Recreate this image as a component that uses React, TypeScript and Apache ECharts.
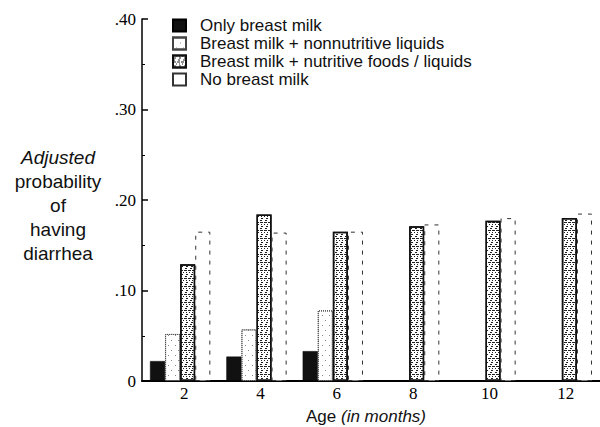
import React, { useEffect, useRef } from "react";
import * as echarts from "echarts";

const ages = ["2", "4", "6", "8", "10", "12"];
const onlyBreast = [0.022, 0.027, 0.033, null, null, null];
const nonNutritive = [0.052, 0.057, 0.078, null, null, null];
const nutritive = [0.129, 0.184, 0.165, 0.171, 0.177, 0.18];
const noBreast = [0.165, 0.164, 0.165, 0.173, 0.18, 0.185];
const seriesNames = [
  "Only breast milk",
  "Breast milk + nonnutritive liquids",
  "Breast milk + nutritive foods / liquids",
  "No breast milk",
];
const yAxisTitle = ["Adjusted", "probability", "of", "having", "diarrhea"];

const SANS = "'Liberation Sans', Arial, Helvetica, sans-serif";
const SERIF = "'Liberation Serif', 'Times New Roman', serif";

export default function App() {
  const ref = useRef<HTMLDivElement>(null);
  useEffect(() => {
    if (!ref.current) return;
    const chart = echarts.init(ref.current, undefined, { renderer: "svg" });
    const option: any = {
      animation: false,
      backgroundColor: "#fff",
      grid: { left: 142, right: -6, top: 19, bottom: 46 },
      legend: {
        orient: "vertical",
        left: 172,
        top: 17,
        padding: 0,
        icon: "rect",
        itemWidth: 13,
        itemHeight: 12,
        itemGap: 1,
        textStyle: {
          fontFamily: SANS,
          fontSize: 17,
          lineHeight: 17,
          color: "#111",
          padding: [0, 0, 0, 9],
        },
        data: seriesNames,
      },
      xAxis: {
        type: "category",
        data: ages,
        axisLine: { lineStyle: { color: "#000", width: 2 } },
        axisTick: { show: false },
        axisLabel: {
          fontFamily: SERIF,
          fontSize: 17,
          color: "#000",
          margin: 4,
          padding: [0, 0, 0, 8],
        },
      },
      yAxis: {
        type: "value",
        min: 0,
        max: 0.4,
        interval: 0.1,
        axisLine: { show: true, lineStyle: { color: "#000", width: 1.5 } },
        axisTick: { show: true, inside: true, length: 6, lineStyle: { color: "#000", width: 1.5 } },
        minorTick: { show: true, splitNumber: 2, length: 3, lineStyle: { color: "#000" } },
        splitLine: { show: false },
        axisLabel: {
          fontFamily: SERIF,
          fontSize: 17,
          color: "#000",
          margin: 6,
          formatter: (v: number) => (v === 0 ? "0" : "." + Math.round(v * 100)),
        },
      },
      series: [
        {
          name: seriesNames[0],
          type: "bar",
          data: onlyBreast,
          barGap: "0%",
          barCategoryGap: "21%",
          itemStyle: { color: "#111", borderColor: "#000", borderWidth: 0.5 },
        },
        {
          name: seriesNames[1],
          type: "bar",
          data: nonNutritive,
          itemStyle: {
            color: "#fff",
            borderColor: "#444",
            borderWidth: 1,
            borderType: "dotted",
            decal: {
              symbol: "rect",
              symbolSize: 1,
              color: "#888",
              backgroundColor: "#fff",
              dashArrayX: [[1, 6], [0, 3, 1, 3]],
              dashArrayY: [1, 4],
            },
          },
        },
        {
          name: seriesNames[2],
          type: "bar",
          data: nutritive,
          itemStyle: {
            color: "#fff",
            borderColor: "#111",
            borderWidth: 1.5,
            decal: {
              symbol: "rect",
              symbolSize: 1,
              color: "#222",
              backgroundColor: "#fff",
              dashArrayX: [[3, 1], [1, 2], [0, 1, 2, 2], [2, 3]],
              dashArrayY: [1, 1],
            },
          },
        },
        {
          name: seriesNames[3],
          type: "bar",
          data: noBreast,
          itemStyle: {
            color: "#fff",
            borderColor: "#333",
            borderWidth: 1,
            borderType: [4, 6],
          },
        },
      ],
      graphic: [
        ...yAxisTitle.map((t, i) => ({
          type: "text",
          x: 58,
          y: 157 + i * 24,
          style: {
            text: t,
            fontFamily: SANS,
            fontSize: 19,
            fontStyle: i === 0 ? "italic" : "normal",
            fill: "#111",
            align: "center",
            verticalAlign: "middle",
          },
        })),
        {
          type: "text",
          x: 366,
          y: 416,
          style: {
            text: "{a|Age }{b|(in months)}",
            align: "center",
            verticalAlign: "middle",
            rich: {
              a: { fontFamily: SANS, fontSize: 17, fill: "#111" },
              b: { fontFamily: SANS, fontSize: 17, fontStyle: "italic", fill: "#111" },
            },
          },
        },
      ],
    };
    chart.setOption(option);
    return () => chart.dispose();
  }, []);
  return (
    <div
      ref={ref}
      style={{ position: "fixed", left: 0, top: 0, width: 600, height: 427, background: "#fff" }}
    />
  );
}
